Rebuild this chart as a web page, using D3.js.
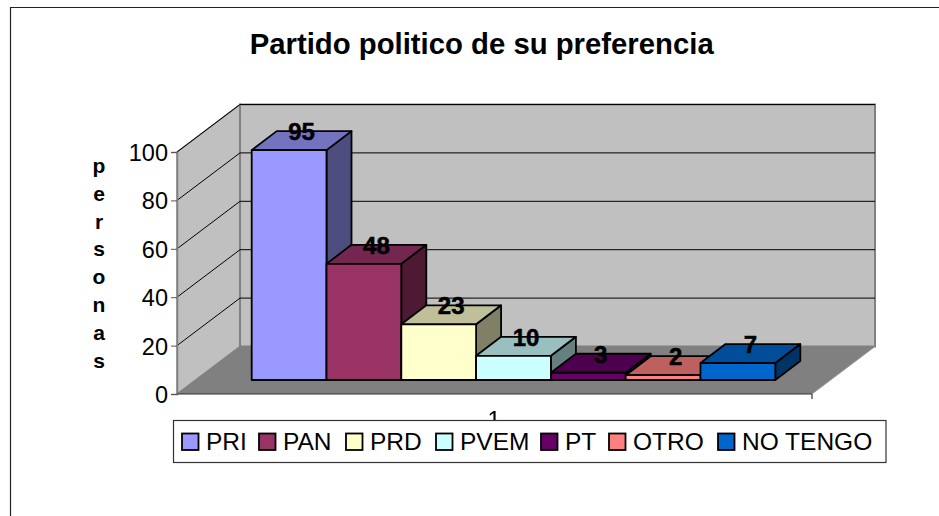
<!DOCTYPE html>
<html><head><meta charset="utf-8">
<script src="https://cdn.jsdelivr.net/npm/d3@7"></script>
<style>html,body{margin:0;padding:0;background:#fff}svg{display:block}text{font-family:"Liberation Sans",Arial,sans-serif;fill:#000}</style>
</head><body><svg id="c" width="939" height="516"></svg>
<script>
const categories = ["PRI","PAN","PRD","PVEM","PT","OTRO","NO TENGO"];
const values = [95,48,23,10,3,2,7];
const frontColors = ["#9999FF","#993366","#FFFFCC","#CCFFFF","#660066","#FF8080","#0066CC"];
const topColors = ["#7373BF","#732650","#BFBF99","#99BFBF","#4D004D","#BF6060","#004D99"];
const sideColors = ["#4D4D80","#4D1933","#808066","#668080","#330033","#804040","#003366"];
const yTicks = [0,20,40,60,80,100];
const xTickLabels = ["1"];
const titleText = "Partido politico de su preferencia";
const axisLetters = ["p","e","r","s","o","n","a","s"];

const svg = d3.select("#c");
const y = d3.scaleLinear().domain([0,100]).range([394,152]);
const x = d3.scaleBand().domain(categories).range([251.7,775.3]);
const wallDx = 63, wallDy = -47.5, barDx = 25, barDy = -19, barBase = 380;
const floorL = 177, floorR = 812;
const poly = p => p.map(q => q.join(",")).join(" ");

// outer frame
svg.append("path").attr("d","M10.5,516V7.5H939").attr("fill","none").attr("stroke","#222").attr("stroke-width",1.2);

// title
svg.append("text").attr("x",481.7).attr("y",53.5).attr("text-anchor","middle")
  .attr("font-size",29.3).attr("font-weight","bold").text(titleText);

// walls and floor
svg.append("polygon").attr("points",poly([[floorL,y(0)],[floorL+wallDx,y(0)+wallDy],[floorL+wallDx,y(100)+wallDy],[floorL,y(100)]]))
  .attr("fill","#C0C0C0").attr("stroke","#808080").attr("stroke-width",1.5);
svg.append("polygon").attr("points",poly([[floorL+wallDx,y(0)+wallDy],[floorR+wallDx,y(0)+wallDy],[floorR+wallDx,y(100)+wallDy],[floorL+wallDx,y(100)+wallDy]]))
  .attr("fill","#C0C0C0").attr("stroke","#808080").attr("stroke-width",2);
svg.append("polygon").attr("points",poly([[floorL,y(0)],[floorR,y(0)],[floorR+wallDx,y(0)+wallDy],[floorL+wallDx,y(0)+wallDy]]))
  .attr("fill","#808080");

// gridlines
const grid = svg.append("g").attr("stroke","#000").attr("stroke-width",1).attr("fill","none");
yTicks.filter(t => t>0).forEach(t => {
  grid.append("path").attr("d",`M${floorL},${y(t)}L${floorL+wallDx},${y(t)+wallDy}L${floorR+wallDx},${y(t)+wallDy}`);
});

// y axis
const axisY = svg.append("g").attr("transform",`translate(${floorL},0)`)
  .call(d3.axisLeft(y).tickValues(yTicks).tickSize(6).tickPadding(3));
axisY.selectAll("text").attr("font-size",23.5).attr("font-family",'"Liberation Sans",Arial,sans-serif').attr("fill","#000").attr("dy","0.36em");
axisY.select(".domain").attr("stroke","#808080").attr("stroke-width",1.5);
axisY.selectAll(".tick line").attr("stroke","#555");

// bottom edge
svg.append("path").attr("d",`M${floorL},${y(0)}H${floorR}V${y(0)+5}`).attr("fill","none").attr("stroke","#333").attr("stroke-width",1.2);
svg.append("path").attr("d",`M${floorR},${y(0)}L${floorR+wallDx},${y(0)+wallDy}`).attr("stroke","#999").attr("stroke-width",1);

// x tick label (partly hidden by the legend)
svg.selectAll(".xt").data(xTickLabels).join("text").attr("class","xt")
  .attr("x",494).attr("y",428).attr("text-anchor","middle").attr("font-size",23.5).text(d=>d);

// bars
const h = v => y(0)-y(v);
const bars = svg.append("g").selectAll("g").data(categories).join("g")
  .attr("stroke","#000").attr("stroke-width",1.8).attr("stroke-linejoin","round");
bars.each(function(c,i){
  const g = d3.select(this), l = x(c), r = l+x.bandwidth(), t = barBase-h(values[i]);
  g.append("polygon").attr("points",poly([[r,barBase],[r+barDx,barBase+barDy],[r+barDx,t+barDy],[r,t]])).attr("fill",sideColors[i]);
  g.append("polygon").attr("points",poly([[l,t],[l+barDx,t+barDy],[r+barDx,t+barDy],[r,t]])).attr("fill",topColors[i]);
  g.append("rect").attr("x",l).attr("y",t).attr("width",x.bandwidth()).attr("height",h(values[i])).attr("fill",frontColors[i]);
});

// value labels
svg.selectAll(".v").data(values).join("text").attr("class","v")
  .attr("x",(d,i)=>x(categories[i])+x.bandwidth()/2+barDx/2)
  .attr("y",d=>barBase-h(d)-10)
  .attr("text-anchor","middle").attr("font-size",24).attr("font-weight","bold")
  .attr("stroke","#000").attr("stroke-width",0.5).text(d=>d);

// axis title, letters stacked
svg.selectAll(".a").data(axisLetters).join("text").attr("class","a")
  .attr("x",99).attr("y",(d,i)=>173+i*27.8).attr("text-anchor","middle")
  .attr("font-size",21).attr("font-weight","bold").text(d=>d);

// legend
svg.append("rect").attr("x",173.5).attr("y",420.5).attr("width",712.5).attr("height",42)
  .attr("fill","#fff").attr("stroke","#333").attr("stroke-width",1.2);
const swatchX = d3.scaleOrdinal().domain(categories).range([182,259,346,436,541,609,718]);
const lg = svg.append("g").selectAll("g").data(categories).join("g");
lg.append("rect").attr("x",d=>swatchX(d)).attr("y",433.5).attr("width",16.5).attr("height",16.5)
  .attr("fill",(d,i)=>frontColors[i]).attr("stroke","#000").attr("stroke-width",1.8);
lg.append("text").attr("x",d=>swatchX(d)+24).attr("y",449.5).attr("font-size",24.5).text(d=>d);
</script></body></html>
